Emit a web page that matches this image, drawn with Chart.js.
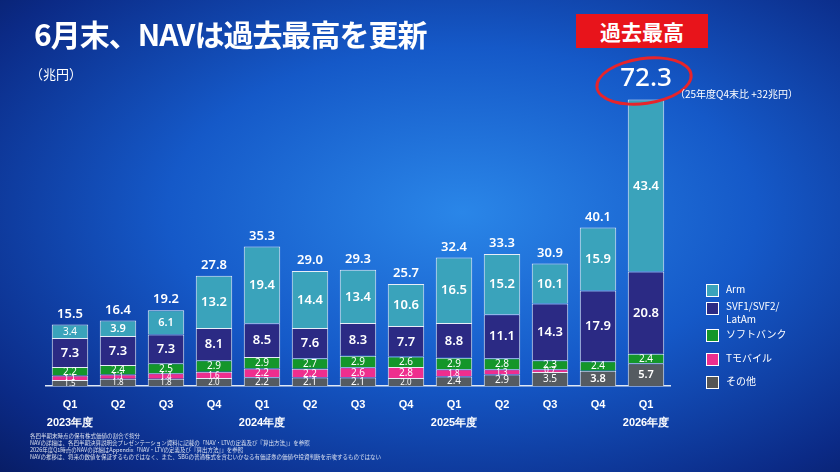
<!DOCTYPE html>
<html><head><meta charset="utf-8">
<script src="https://cdn.jsdelivr.net/npm/chart.js@4"></script>
<style>
body{margin:0;width:840px;height:472px;overflow:hidden;font-family:"Noto Sans CJK JP","Noto Sans",sans-serif;}
#wrap{position:relative;width:840px;height:472px;background:radial-gradient(ellipse at 55% 45%,#2a86e8 0%,#1559c8 45%,#0b2a86 85%,#081d66 100%);}
#c{position:absolute;left:0;top:0;}
.t{position:absolute;color:#fff;}
.lg{position:absolute;left:706px;color:#fff;font-size:10px;}
.lg span{display:inline-block;width:11px;height:11px;border:1px solid #fff;vertical-align:middle;margin-right:7px;}
</style></head><body>
<div id="wrap">
<canvas id="c" width="840" height="472"></canvas>
<div class="t" style="left:34px;top:11px;font-size:30px;font-weight:bold;letter-spacing:-1px;">6月末、NAVは過去最高を更新</div>
<div class="t" style="left:30px;top:64px;font-size:13px;">（兆円）</div>
<div class="t" style="left:576px;top:14px;width:132px;height:34px;background:#e8141b;font-size:21px;font-weight:bold;text-align:center;line-height:34px;">過去最高</div>
<div style="position:absolute;left:595px;top:57px;width:92px;height:42px;border:3px solid #e8242a;border-radius:50%;transform:rotate(-8deg);"></div>
<div class="t" style="left:675px;top:86px;font-size:10px;">（25年度Q4末比 +32兆円）</div>
<div class="lg" style="top:281px;"><span style="background:#3aa3bb"></span>Arm</div>
<div class="lg" style="top:299px;line-height:13px;"><span style="background:#2b2a84;float:left;margin-top:3px"></span>SVF1/SVF2/<br>LatAm</div>
<div class="lg" style="top:326px;"><span style="background:#14962a"></span>ソフトバンク</div>
<div class="lg" style="top:350px;"><span style="background:#ee2e8e"></span>Tモバイル</div>
<div class="lg" style="top:373px;"><span style="background:#555"></span>その他</div>
<div class="t" style="left:30px;top:433px;font-size:5.5px;line-height:7px;opacity:.85;">各四半期末時点の保有株式価値の割合で按分<br>NAVの詳細は、各四半期決算説明会プレゼンテーション資料に記載の「NAV・LTVの定義及び『算出方法』」を参照<br>2026年度Q1時点のNAVの詳細はAppendix「NAV・LTVの定義及び『算出方法』」を参照<br>NAVの推移は、将来の数値を保証するものではなく、また、SBGの普通株式を含むいかなる有価証券の価値や投資判断を示唆するものではない</div>
</div>
<script>
const categories=[["Q1","2023年度"],"Q2","Q3","Q4",["Q1","2024年度"],"Q2","Q3","Q4",["Q1","2025年度"],"Q2","Q3","Q4",["Q1","2026年度"]];
const other=[1.5,1.8,1.8,2.0,2.2,2.1,2.1,2.0,2.4,2.9,3.5,3.8,5.7];
const tmobile=[1.1,1.1,1.4,1.6,2.2,2.2,2.6,2.8,1.8,1.3,0.7,0,0];
const softbank=[2.2,2.4,2.5,2.9,2.9,2.7,2.9,2.6,2.9,2.8,2.3,2.4,2.4];
const svf=[7.3,7.3,7.3,8.1,8.5,7.6,8.3,7.7,8.8,11.1,14.3,17.9,20.8];
const arm=[3.4,3.9,6.1,13.2,19.4,14.4,13.4,10.6,16.5,15.2,10.1,15.9,43.4];
const totals=[15.5,16.4,19.2,27.8,35.3,29.0,29.3,25.7,32.4,33.3,30.9,40.1,72.3];
const ds=(l,d,c)=>({label:l,data:d,backgroundColor:c,borderColor:'#e8eef8',borderWidth:1,barPercentage:0.76,categoryPercentage:1});
const labelPlugin={id:'lbl',afterDatasetsDraw(ch){
 const ctx=ch.ctx;ctx.save();ctx.fillStyle='#fff';ctx.textAlign='center';ctx.textBaseline='middle';
 ch.data.datasets.forEach((d,i)=>{ch.getDatasetMeta(i).data.forEach((b,j)=>{const v=d.data[j];if(!v)return;
  const h=Math.abs(b.base-b.y);const fs=h<8?8:(h<14?10:(h<25?11:13));
  ctx.font=(fs>=11?'600 ':'')+fs+'px "Noto Sans",sans-serif';ctx.fillText(v.toFixed(1),b.x,(b.y+b.base)/2+0.5);});});
 const last=ch.getDatasetMeta(4);ctx.textBaseline='bottom';
 last.data.forEach((b,j)=>{if(j===12){ctx.font='500 26px "Noto Sans",sans-serif';ctx.fillText(totals[j].toFixed(1),b.x,b.y-8);}else{ctx.font='600 13px "Noto Sans",sans-serif';ctx.fillText(totals[j].toFixed(1),b.x,b.y-4);}});
 ctx.restore();}};
new Chart(document.getElementById('c'),{type:'bar',
 data:{labels:categories,datasets:[ds('その他',other,'#555b61'),ds('Tモバイル',tmobile,'#ee2e8e'),ds('ソフトバンク',softbank,'#14962a'),ds('SVF1/SVF2/LatAm',svf,'#2b2a84'),ds('Arm',arm,'#3aa3bb')]},
 options:{responsive:false,animation:false,layout:{padding:{left:46,right:170,top:0,bottom:38}},
  plugins:{legend:{display:false},tooltip:{enabled:false}},
  scales:{x:{stacked:true,grid:{display:false},border:{color:'#dfe8f5',width:1.5},ticks:{color:'#fff',font:{size:11,weight:'600',lineHeight:1.55},padding:3,maxRotation:0,minRotation:0,autoSkip:false}},
   y:{stacked:true,display:false,min:0,max:97.4}}},
 plugins:[labelPlugin]});
</script></body></html>
